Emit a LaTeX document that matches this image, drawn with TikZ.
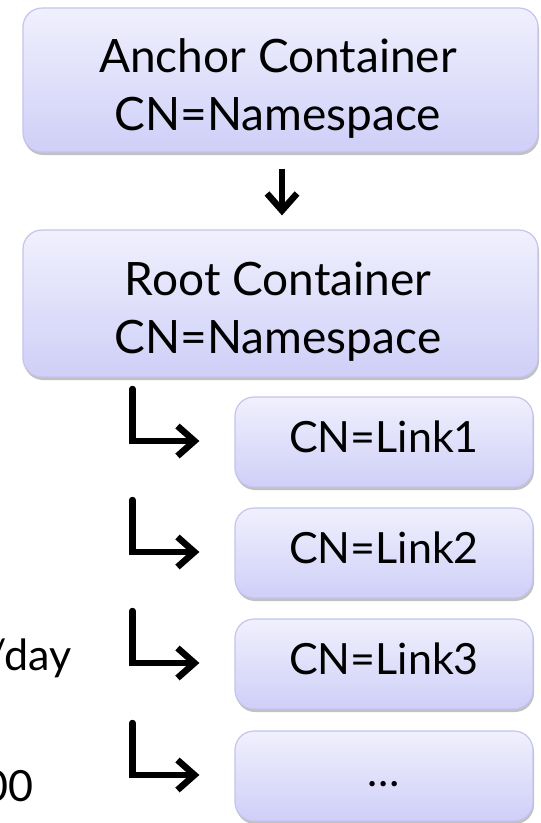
\documentclass[tikz,border=0pt]{standalone}
\usepackage{fontspec}
\setmainfont{Lato}
\usetikzlibrary{arrows.meta,shadows,calc}

\definecolor{boxtop}{HTML}{F0F0FD}
\definecolor{boxbot}{HTML}{CFCFF8}
\definecolor{boxline}{HTML}{C4C4EE}

\tikzset{
  entry/.style={rounded corners=19pt, draw=boxline, line width=1.2pt,
    top color=boxtop, bottom color=boxbot,
    drop shadow={shadow xshift=1pt, shadow yshift=-3pt, opacity=0.4, fill=black!60},
    inner sep=0pt},
  bigbox/.style={entry, minimum width=515pt},
  linkbox/.style={entry, minimum width=298pt, minimum height=90pt,
    font=\fontsize{43}{52}\selectfont, text height=32pt, text depth=12pt},
  label/.style={font=\fontsize{46}{58}\selectfont, align=center, inner sep=0pt},
  note/.style={font=\fontsize{43}{52}\selectfont, inner sep=0pt},
  arr/.style={line width=6.5pt, -{Straight Barb[length=17pt, width=30pt, line width=6.5pt]}},
}

\begin{document}
\begin{tikzpicture}[x=1pt, y=-1pt]
  \useasboundingbox (0,0) rectangle (541,823);
  \clip (0,0) rectangle (541,823);
  \fill[white] (0,0) rectangle (541,823);

  % containers
  \node[bigbox, minimum height=144pt] (anchor) at (280.5,80) {};
  \node[label] (anchortext) at (278,88) {Anchor Container\\CN=Namespace};

  \node[bigbox, minimum height=147pt] (root) at (280.5,303.5) {};
  \node[label] (roottext) at (278,312) {Root Container\\CN=Namespace};

  % link objects
  \node[linkbox] (link1) at (384,442) {CN=Link1};
  \node[linkbox] (link2) at (384,553) {CN=Link2};
  \node[linkbox] (link3) at (384,664) {CN=Link3};
  \node[linkbox] (link4) at (384,776) {\dots};

  % anchor -> root
  \draw[arr, shorten <=16pt, shorten >=14pt]
    (anchor.south -| 282,0) -- (root.north -| 282,0);

  % root -> links
  \foreach \k in {1,...,4} {
    \coordinate (start\k) at ($(link\k.west)+(-102,-53)$);
    \draw[arr, line cap=round, shorten >=35pt] (start\k) |- ($(link\k.west)+(0,-1)$);
  }

  % side notes, running off the left edge
  \node[note, anchor=base east] (note1) at (72,670) {/day};
  \node[note, anchor=base east] (note2) at (34,801) {00};
\end{tikzpicture}
\end{document}
